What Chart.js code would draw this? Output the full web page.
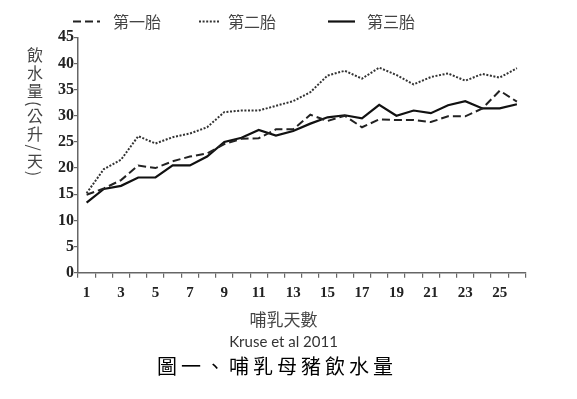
<!DOCTYPE html>
<html>
<head>
<meta charset="utf-8">
<script src="https://cdn.jsdelivr.net/npm/chart.js@4/dist/chart.umd.min.js"></script>
<style>
  html, body { margin: 0; padding: 0; background: #fff; }
  #wrap { position: relative; width: 577px; height: 399px; }
  #ytitle { position: absolute; left: 27px; top: 47px; writing-mode: vertical-rl;
            font: 16px "Noto Sans CJK TC", sans-serif; color: #444; line-height: 16px; letter-spacing: 2px; }
</style>
</head>
<body>
<div id="wrap">
  <canvas id="c" width="577" height="399"></canvas>
  <div id="ytitle">飲水量(公升/天)</div>
</div>
<script>
// ---- data ----
const days = ['1','2','3','4','5','6','7','8','9','10','11','12','13','14','15','16','17','18','19','20','21','22','23','24','25','26'];
const seriesNames = ['第一胎', '第二胎', '第三胎'];
const parity1 = [14.9, 16.1, 17.7, 20.5, 20.0, 21.3, 22.2, 22.8, 24.6, 25.6, 25.7, 27.4, 27.4, 30.2, 29.0, 30.0, 27.8, 29.3, 29.2, 29.2, 28.8, 29.9, 29.9, 31.4, 34.8, 32.7];
const parity2 = [15.2, 19.8, 21.6, 26.1, 24.7, 25.9, 26.6, 27.8, 30.7, 31.0, 31.0, 31.9, 32.8, 34.5, 37.7, 38.6, 37.1, 39.2, 37.8, 36.0, 37.4, 38.1, 36.7, 38.0, 37.3, 39.1];
const parity3 = [13.4, 16.0, 16.6, 18.2, 18.2, 20.5, 20.5, 22.2, 25.0, 25.8, 27.3, 26.2, 27.1, 28.5, 29.7, 30.1, 29.5, 32.1, 30.0, 31.0, 30.5, 32.0, 32.8, 31.4, 31.4, 32.2];
const yTicks = [0, 5, 10, 15, 20, 25, 30, 35, 40, 45];
const xAxisTitle = '哺乳天數';
const sourceText = 'Kruse et al 2011';
const mainTitle = '圖一、哺乳母豬飲水量';

// ---- styles ----
const dashes = [[8, 4], [2, 1.6], []];
const colors = ['#222', '#333', '#111'];
const widths = [2, 2, 2.2];

const overlay = {
  id: 'overlay',
  afterDraw(chart) {
    const ctx = chart.ctx;
    ctx.save();
    // legend
    const sx = [73, 199, 328], sl = [27, 21, 27], tx = [113, 228, 367];
    const ly = 21.5;
    for (let i = 0; i < 3; i++) {
      ctx.beginPath();
      ctx.setLineDash(dashes[i]);
      ctx.lineWidth = widths[i];
      ctx.strokeStyle = colors[i];
      ctx.moveTo(sx[i], ly);
      ctx.lineTo(sx[i] + sl[i], ly);
      ctx.stroke();
      ctx.setLineDash([]);
      ctx.fillStyle = '#444';
      ctx.font = '16px "Noto Sans CJK TC", sans-serif';
      ctx.textAlign = 'left';
      ctx.textBaseline = 'middle';
      ctx.fillText(seriesNames[i], tx[i], ly);
    }
    // bottom texts
    ctx.fillStyle = '#444';
    ctx.textAlign = 'center';
    ctx.font = '17px "Noto Sans CJK TC", sans-serif';
    ctx.fillText(xAxisTitle, 283.5, 319.5);
    ctx.fillStyle = '#333';
    ctx.font = '15px Lato, sans-serif';
    ctx.fillText(sourceText, 283.5, 342.5);
    ctx.fillStyle = '#000';
    ctx.textAlign = 'left';
    ctx.font = '20px "Noto Sans CJK TC", sans-serif';
    ctx.letterSpacing = '4px';
    ctx.fillText(mainTitle, 157, 366.5);
    ctx.restore();
  }
};

new Chart(document.getElementById('c'), {
  type: 'line',
  data: {
    labels: days,
    datasets: [parity1, parity2, parity3].map((d, i) => ({
      label: seriesNames[i],
      data: d,
      borderColor: colors[i],
      borderWidth: widths[i],
      borderDash: dashes[i],
      pointRadius: 0,
      tension: 0,
      fill: false
    }))
  },
  options: {
    responsive: false,
    animation: false,
    devicePixelRatio: 1,
    layout: { padding: { left: 0, right: 51.5, top: 37.3, bottom: 0 } },
    plugins: { legend: { display: false }, tooltip: { enabled: false } },
    scales: {
      x: {
        type: 'category',
        offset: true,
        afterFit(s) { s.height = 126.3; },
        grid: { offset: true, drawOnChartArea: false, drawTicks: true, tickLength: 5, color: '#666', lineWidth: 1.2 },
        border: { display: true, color: '#666', width: 1.5 },
        ticks: {
          autoSkip: false, maxRotation: 0, padding: 6,
          color: '#222',
          font: { family: '"Liberation Serif", serif', size: 15, weight: 'bold' },
          callback(v, idx) { return idx % 2 === 0 ? days[idx] : ''; }
        }
      },
      y: {
        min: 0, max: 45,
        afterFit(s) { s.width = 78; },
        afterBuildTicks(s) { s.ticks = yTicks.map(v => ({ value: v })); },
        grid: { drawOnChartArea: false, drawTicks: true, tickLength: 4, color: '#666', lineWidth: 1.2 },
        border: { display: true, color: '#666', width: 1.5 },
        ticks: {
          padding: 0,
          color: '#222',
          font: { family: '"Liberation Serif", serif', size: 16, weight: 'bold' }
        }
      }
    }
  },
  plugins: [overlay]
});
</script>
</body>
</html>
